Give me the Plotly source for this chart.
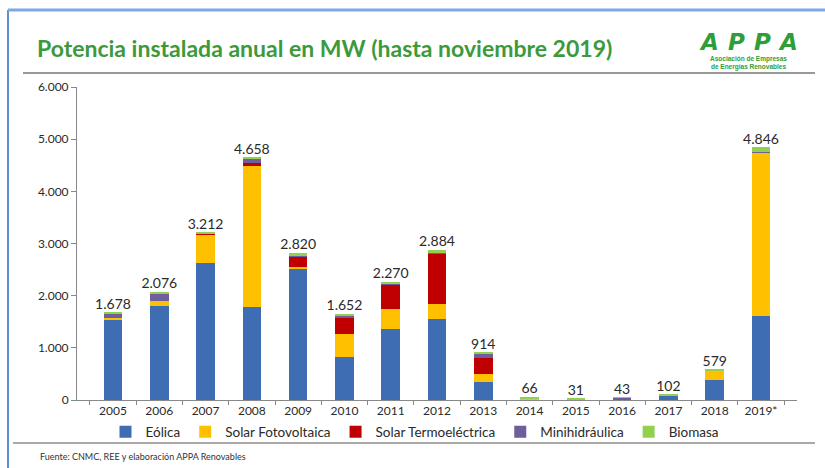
import plotly.graph_objects as go

years = ["2005", "2006", "2007", "2008", "2009", "2010", "2011", "2012", "2013",
         "2014", "2015", "2016", "2017", "2018", "2019*"]
eolica = [1550, 1800, 2635, 1775, 2526, 827, 1359, 1551, 353, 16, 0, 30, 85, 392, 1615]
solar_fv = [20, 100, 540, 2712, 20, 436, 385, 289, 141, 10, 0, 0, 5, 180, 3120]
solar_termo = [0, 0, 11, 60, 200, 320, 468, 962, 320, 0, 0, 0, 0, 0, 0]
minihidraulica = [80, 130, 15, 70, 24, 30, 20, 10, 80, 10, 15, 10, 5, 0, 16]
biomasa = [28, 46, 11, 41, 50, 39, 38, 72, 20, 30, 16, 3, 7, 7, 95]
totales = [1678, 2076, 3212, 4658, 2820, 1652, 2270, 2884, 914, 66, 31, 43, 102, 579, 4846]
y_ticks = [0, 1000, 2000, 3000, 4000, 5000, 6000]

series = [
    ("Eólica", eolica, "#3F6DB3"),
    ("Solar Fotovoltaica", solar_fv, "#FFC000"),
    ("Solar Termoeléctrica", solar_termo, "#C00000"),
    ("Minihidráulica", minihidraulica, "#6E5E9E"),
    ("Biomasa", biomasa, "#92D050"),
]

FONT = "Lato"
W, H = 825, 468
L, R, T, B = 77, 797, 87, 400
PW, PH = R - L, B - T


def px(x):
    return (x - L) / PW


def py(y):
    return (B - y) / PH


fig = go.Figure()
for name, vals, col in series:
    fig.add_trace(go.Bar(x=years, y=vals, name=name, marker=dict(color=col, line=dict(width=0)),
                         width=0.4))

labels = [f"{v:,}".replace(",", ".") for v in totales]
fig.add_trace(go.Scatter(x=years, y=totales, mode="text", text=labels,
                         textposition="top center", showlegend=False,
                         textfont=dict(family=FONT, size=14, color="#2a2a2a"),
                         hoverinfo="skip"))

fig.update_layout(
    width=W, height=H,
    barmode="stack",
    separators=",.",
    paper_bgcolor="white", plot_bgcolor="white",
    margin=dict(l=L, r=W - R, t=T, b=H - B, autoexpand=False),
    font=dict(family=FONT, color="#333333"),
    showlegend=True,
    legend=dict(orientation="h", traceorder="normal", xref="container", yref="container",
                x=415 / W, xanchor="center", y=1 - 432 / H, yanchor="middle",
                font=dict(family=FONT, size=13.5, color="#2a2a2a"),
                itemwidth=30, bgcolor="rgba(0,0,0,0)"),
    xaxis=dict(showline=True, linecolor="#888888", linewidth=1, ticks="outside",
               tickson="boundaries", ticklen=4, tickcolor="#888888",
               tickfont=dict(family=FONT, size=12, color="#2a2a2a"), showgrid=False),
    yaxis=dict(range=[0, 6000], tickvals=y_ticks, tickformat=",d", showline=True,
               linecolor="#888888", linewidth=1, ticks="outside", ticklen=5,
               tickcolor="#888888", showgrid=False, zeroline=False,
               tickfont=dict(family=FONT, size=12, color="#2a2a2a")),
)

# title
fig.add_annotation(text="<b>Potencia instalada anual en MW (hasta noviembre 2019)</b>",
                   xref="paper", yref="paper", x=px(35), y=py(48),
                   xanchor="left", yanchor="middle", showarrow=False,
                   font=dict(family=FONT, size=23, color="#3C9A3C"))
# logo
fig.add_annotation(text="<b><i>A\u2009\u2009P\u2009\u2009P\u2009\u2009A</i></b>", xref="paper", yref="paper",
                   x=px(748), y=py(57), xanchor="center", yanchor="bottom",
                   showarrow=False, font=dict(family="DejaVu Sans", size=23, color="#2E9E3A"))
fig.add_annotation(text="<b>Asociación de Empresas<br>de Energías Renovables</b>", xref="paper", yref="paper",
                   x=px(748), y=py(53), xanchor="center", yanchor="top",
                   showarrow=False, font=dict(family="Liberation Sans", size=6.5, color="#2E9E3A"))
# footer
fig.add_annotation(text="Fuente: CNMC, REE y elaboración APPA Renovables", xref="paper", yref="paper",
                   x=px(38), y=py(456), xanchor="left", yanchor="middle",
                   showarrow=False, font=dict(family=FONT, size=9, color="#333333"))

# frame and separator lines
fig.add_shape(type="line", xref="paper", yref="paper", x0=px(8), x1=px(8),
              y0=py(468), y1=py(10), line=dict(color="#5B8FD6", width=2))
fig.add_shape(type="line", xref="paper", yref="paper", x0=px(8), x1=px(825),
              y0=py(10), y1=py(10), line=dict(color="#7FA8E0", width=3))
fig.add_shape(type="line", xref="paper", yref="paper", x0=px(23), x1=px(815),
              y0=py(73), y1=py(73), line=dict(color="#777777", width=1.5))
fig.add_shape(type="line", xref="paper", yref="paper", x0=px(13), x1=px(815),
              y0=py(443), y1=py(443), line=dict(color="#555555", width=1))

fig.write_html("out.html", config={"displayModeBar": False},
               post_script="document.body.style.margin='0';document.body.style.overflow='hidden';")
